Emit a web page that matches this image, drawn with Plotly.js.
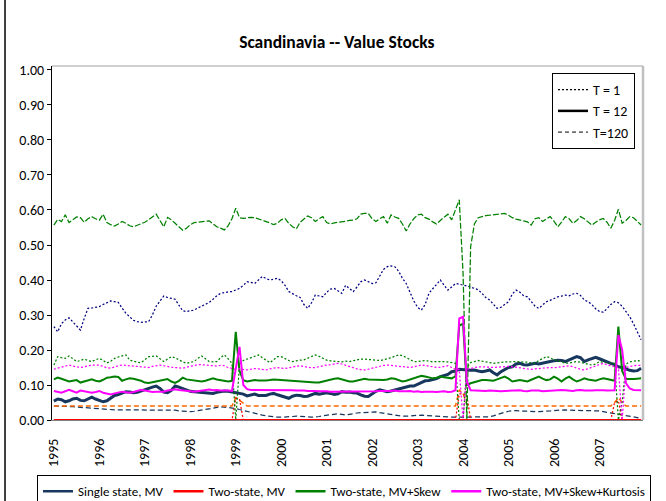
<!DOCTYPE html>
<html>
<head>
<meta charset="utf-8">
<script src="https://cdn.plot.ly/plotly-3.0.1.min.js"></script>
<style>
  html, body { margin: 0; padding: 0; background: #ffffff; }
  #chart { width: 666px; height: 501px; }
</style>
</head>
<body>
<div id="chart"></div>
<script>
// ---------- DATA (monthly, Jan 1995 - Dec 2007) ----------
const years = ["1995","1996","1997","1998","1999","2000","2001","2002","2003","2004","2005","2006","2007"];

const seriesNames = ["Single state, MV", "Two-state, MV", "Two-state, MV+Skew", "Two-state, MV+Skew+Kurtosis"];
const horizonNames = ["T = 1", "T = 12", "T=120"];

// Single state, MV
const singleT1 = [
0.267,0.252,0.275,0.286,0.292,0.280,0.267,0.257,0.290,0.319,0.320,0.322,
0.324,0.330,0.336,0.340,0.338,0.336,0.320,0.305,0.295,0.285,0.281,0.279,
0.280,0.281,0.300,0.325,0.340,0.354,0.350,0.348,0.345,0.328,0.312,0.310,
0.312,0.314,0.320,0.325,0.330,0.336,0.345,0.355,0.362,0.365,0.366,0.367,
0.372,0.376,0.385,0.395,0.393,0.390,0.400,0.410,0.404,0.400,0.402,0.405,
0.398,0.385,0.367,0.360,0.355,0.350,0.330,0.319,0.335,0.357,0.354,0.352,
0.365,0.374,0.376,0.368,0.362,0.385,0.375,0.367,0.380,0.395,0.400,0.396,
0.390,0.392,0.410,0.430,0.438,0.440,0.438,0.425,0.405,0.390,0.365,0.340,
0.322,0.314,0.330,0.362,0.375,0.388,0.400,0.385,0.371,0.380,0.390,0.388,
0.386,0.384,0.380,0.376,0.372,0.362,0.350,0.343,0.332,0.319,0.322,0.330,
0.338,0.360,0.371,0.365,0.355,0.352,0.340,0.325,0.319,0.328,0.338,0.342,
0.348,0.352,0.354,0.357,0.355,0.360,0.362,0.356,0.343,0.338,0.330,0.318,
0.310,0.308,0.318,0.330,0.338,0.335,0.325,0.310,0.295,0.275,0.250,0.229];

const singleT12 = [
0.054,0.060,0.058,0.052,0.055,0.060,0.062,0.056,0.055,0.060,0.065,0.060,
0.055,0.052,0.055,0.062,0.070,0.073,0.076,0.081,0.080,0.078,0.079,0.083,
0.088,0.090,0.094,0.097,0.090,0.080,0.078,0.085,0.097,0.094,0.090,0.088,
0.082,0.081,0.080,0.078,0.077,0.076,0.076,0.079,0.081,0.083,0.082,0.080,
0.078,0.078,0.074,0.069,0.072,0.074,0.070,0.069,0.070,0.074,0.076,0.072,
0.068,0.064,0.062,0.068,0.071,0.070,0.067,0.068,0.072,0.076,0.074,0.077,
0.078,0.076,0.073,0.075,0.081,0.079,0.080,0.078,0.077,0.072,0.068,0.067,
0.075,0.082,0.086,0.083,0.081,0.083,0.086,0.090,0.092,0.094,0.097,0.097,
0.102,0.106,0.112,0.113,0.115,0.118,0.124,0.128,0.130,0.138,0.140,0.145,
0.145,0.143,0.142,0.143,0.140,0.138,0.140,0.143,0.135,0.129,0.138,0.145,
0.150,0.152,0.160,0.162,0.158,0.157,0.160,0.162,0.160,0.163,0.166,0.167,
0.169,0.171,0.170,0.167,0.172,0.176,0.181,0.178,0.167,0.172,0.176,0.179,
0.175,0.170,0.167,0.162,0.158,0.152,0.150,0.145,0.142,0.140,0.141,0.148];

const singleT120 = [
0.040,0.040,0.040,0.040,0.039,0.038,0.037,0.036,0.035,0.034,0.033,0.032,
0.032,0.031,0.030,0.030,0.029,0.029,0.029,0.029,0.029,0.029,0.029,0.029,
0.029,0.029,0.029,0.030,0.030,0.030,0.030,0.030,0.028,0.026,0.025,0.024,
0.024,0.025,0.026,0.028,0.030,0.032,0.034,0.036,0.038,0.037,0.036,0.036,
0.033,0.030,0.027,0.024,0.021,0.018,0.015,0.014,0.012,0.010,0.009,0.008,
0.008,0.008,0.009,0.010,0.011,0.011,0.010,0.009,0.008,0.008,0.010,0.012,
0.014,0.015,0.016,0.018,0.016,0.014,0.016,0.019,0.020,0.021,0.022,0.023,
0.024,0.023,0.021,0.019,0.017,0.016,0.015,0.013,0.011,0.011,0.012,0.013,
0.014,0.014,0.013,0.012,0.011,0.010,0.010,0.009,0.009,0.008,0.008,0.008,
0.008,0.008,0.008,0.008,0.008,0.008,0.008,0.009,0.012,0.016,0.019,0.022,
0.025,0.027,0.027,0.026,0.025,0.024,0.024,0.024,0.024,0.024,0.025,0.026,
0.027,0.028,0.029,0.029,0.028,0.028,0.027,0.027,0.027,0.027,0.027,0.027,
0.026,0.024,0.022,0.019,0.017,0.016,0.014,0.013,0.011,0.009,0.007,0.005];

// Two-state, MV
const twoMVT1 = [
0,0,0,0,0,0,0,0,0,0,0,0,
0,0,0,0,0,0,0,0,0,0,0,0,
0,0,0,0,0,0,0,0,0,0,0,0,
0,0,0,0,0,0,0,0,0,0,0,0,
0.062,0.060,0,0,0,0,0,0,0,0,0,0,
0,0,0,0,0,0,0,0,0,0,0,0,
0,0,0,0,0,0,0,0,0,0,0,0,
0,0,0,0,0,0,0,0,0,0,0,0,
0,0,0,0,0,0,0,0,0,0,0,0.075,
0.075,0.070,0,0,0,0,0,0,0,0,0,0,
0,0,0,0,0,0,0,0,0,0,0,0,
0,0,0,0,0,0,0,0,0,0,0,0,
0,0,0,0,0.050,0.055,0,0,0,0,0,0];

const twoMVT12 = [
0,0,0,0,0,0,0,0,0,0,0,0,
0,0,0,0,0,0,0,0,0,0,0,0,
0,0,0,0,0,0,0,0,0,0,0,0,
0,0,0,0,0,0,0,0,0,0,0,0,
0,0,0,0,0,0,0,0,0,0,0,0,
0,0,0,0,0,0,0,0,0,0,0,0,
0,0,0,0,0,0,0,0,0,0,0,0,
0,0,0,0,0,0,0,0,0,0,0,0,
0,0,0,0,0,0,0,0,0,0,0,0,
0,0,0,0,0,0,0,0,0,0,0,0,
0,0,0,0,0,0,0,0,0,0,0,0,
0,0,0,0,0,0,0,0,0,0,0,0,
0,0,0,0,0,0,0,0,0,0,0,0];

const twoMVT120 = [
0.040,0.040,0.040,0.040,0.040,0.040,0.040,0.040,0.040,0.040,0.040,0.040,
0.040,0.040,0.040,0.040,0.040,0.040,0.040,0.040,0.040,0.040,0.040,0.040,
0.040,0.040,0.040,0.040,0.040,0.040,0.040,0.040,0.040,0.040,0.040,0.040,
0.040,0.040,0.040,0.040,0.040,0.040,0.040,0.040,0.040,0.040,0.040,0.040,
0.064,0.056,0.046,0.040,0.040,0.040,0.040,0.040,0.040,0.040,0.040,0.040,
0.040,0.040,0.040,0.040,0.040,0.040,0.040,0.040,0.040,0.040,0.040,0.040,
0.040,0.040,0.040,0.040,0.040,0.040,0.040,0.040,0.040,0.040,0.040,0.040,
0.040,0.040,0.040,0.040,0.040,0.040,0.040,0.040,0.040,0.040,0.040,0.040,
0.040,0.040,0.040,0.040,0.040,0.040,0.040,0.040,0.040,0.040,0.040,0.086,
0.075,0.045,0.040,0.040,0.040,0.040,0.040,0.040,0.040,0.040,0.040,0.040,
0.040,0.040,0.040,0.040,0.040,0.040,0.040,0.040,0.040,0.040,0.040,0.040,
0.040,0.040,0.040,0.040,0.040,0.040,0.040,0.040,0.040,0.040,0.040,0.040,
0.040,0.040,0.040,0.040,0.050,0.064,0.050,0.040,0.040,0.040,0.040,0.040];

// Two-state, MV+Skew
const skewT1 = [
0.157,0.181,0.178,0.176,0.183,0.175,0.167,0.170,0.174,0.170,0.167,0.172,
0.176,0.170,0.163,0.168,0.176,0.180,0.184,0.186,0.171,0.167,0.165,0.164,
0.172,0.181,0.182,0.183,0.175,0.167,0.174,0.181,0.178,0.171,0.166,0.162,
0.165,0.167,0.176,0.183,0.175,0.167,0.166,0.167,0.178,0.186,0.175,0.162,
0.000,0.160,0.170,0.174,0.178,0.181,0.186,0.178,0.170,0.164,0.172,0.181,
0.181,0.175,0.170,0.167,0.170,0.171,0.172,0.176,0.180,0.186,0.182,0.176,
0.171,0.169,0.167,0.167,0.166,0.168,0.167,0.170,0.172,0.174,0.174,0.173,
0.172,0.171,0.170,0.172,0.174,0.178,0.182,0.186,0.184,0.178,0.172,0.167,
0.167,0.168,0.170,0.168,0.166,0.167,0.168,0.167,0.166,0.164,0.162,0.000,
0.000,0.150,0.164,0.167,0.170,0.168,0.166,0.164,0.162,0.163,0.165,0.166,
0.166,0.167,0.167,0.166,0.166,0.165,0.163,0.162,0.170,0.176,0.181,0.178,
0.172,0.170,0.166,0.162,0.163,0.165,0.167,0.165,0.162,0.160,0.157,0.160,
0.167,0.165,0.163,0.162,0.162,0.000,0.050,0.160,0.166,0.168,0.170,0.168];

const skewT12 = [
0.116,0.121,0.118,0.113,0.110,0.112,0.114,0.107,0.110,0.114,0.116,0.112,
0.110,0.115,0.121,0.122,0.124,0.123,0.112,0.116,0.119,0.118,0.116,0.112,
0.107,0.106,0.108,0.110,0.113,0.116,0.117,0.110,0.106,0.112,0.121,0.116,
0.114,0.112,0.112,0.110,0.112,0.116,0.119,0.116,0.114,0.112,0.110,0.112,
0.252,0.140,0.114,0.110,0.112,0.114,0.113,0.112,0.113,0.114,0.116,0.115,
0.114,0.114,0.114,0.113,0.112,0.111,0.110,0.109,0.108,0.107,0.107,0.110,
0.114,0.116,0.118,0.119,0.116,0.112,0.110,0.110,0.113,0.116,0.118,0.116,
0.115,0.114,0.113,0.114,0.116,0.119,0.118,0.114,0.110,0.112,0.116,0.118,
0.122,0.126,0.124,0.121,0.119,0.121,0.124,0.122,0.120,0.119,0.125,0.270,
0.275,0.100,0.105,0.108,0.111,0.114,0.114,0.113,0.112,0.116,0.121,0.124,
0.118,0.110,0.112,0.114,0.112,0.110,0.115,0.120,0.124,0.118,0.114,0.116,
0.124,0.118,0.110,0.118,0.124,0.116,0.110,0.114,0.119,0.116,0.113,0.112,
0.116,0.119,0.117,0.114,0.112,0.267,0.140,0.117,0.116,0.117,0.118,0.119];

const skewT120 = [
0.557,0.573,0.567,0.586,0.564,0.572,0.580,0.578,0.565,0.575,0.581,0.575,
0.571,0.588,0.564,0.558,0.554,0.560,0.567,0.562,0.555,0.552,0.556,0.560,
0.565,0.572,0.580,0.588,0.570,0.552,0.579,0.572,0.562,0.552,0.542,0.548,
0.558,0.564,0.566,0.567,0.568,0.569,0.560,0.552,0.548,0.543,0.555,0.575,
0.605,0.578,0.576,0.578,0.579,0.578,0.575,0.570,0.567,0.563,0.558,0.562,
0.572,0.576,0.562,0.552,0.546,0.565,0.573,0.583,0.578,0.567,0.575,0.581,
0.564,0.560,0.563,0.564,0.566,0.568,0.570,0.571,0.575,0.588,0.590,0.590,
0.575,0.567,0.575,0.581,0.562,0.586,0.580,0.576,0.560,0.540,0.560,0.575,
0.586,0.588,0.578,0.574,0.566,0.560,0.570,0.580,0.588,0.572,0.600,0.629,
0.420,0.000,0.495,0.560,0.578,0.582,0.584,0.585,0.586,0.588,0.589,0.590,
0.585,0.578,0.574,0.572,0.570,0.566,0.557,0.575,0.578,0.567,0.575,0.581,
0.568,0.552,0.565,0.581,0.575,0.562,0.570,0.581,0.575,0.565,0.557,0.565,
0.572,0.576,0.565,0.548,0.570,0.602,0.562,0.570,0.581,0.578,0.568,0.557];

// Two-state, MV+Skew+Kurtosis
const kurtT1 = [
0.145,0.148,0.152,0.155,0.157,0.154,0.151,0.150,0.152,0.155,0.157,0.157,
0.157,0.153,0.149,0.148,0.152,0.155,0.157,0.156,0.155,0.154,0.153,0.152,
0.151,0.150,0.153,0.156,0.157,0.155,0.152,0.151,0.150,0.148,0.148,0.151,
0.154,0.157,0.158,0.158,0.157,0.155,0.153,0.154,0.156,0.155,0.150,0.147,
0.145,0.146,0.144,0.143,0.145,0.147,0.146,0.144,0.143,0.146,0.149,0.150,
0.148,0.147,0.149,0.152,0.154,0.155,0.153,0.150,0.149,0.150,0.153,0.156,
0.157,0.158,0.160,0.162,0.160,0.156,0.152,0.148,0.146,0.144,0.143,0.145,
0.148,0.152,0.154,0.156,0.157,0.156,0.155,0.154,0.152,0.150,0.150,0.152,
0.155,0.157,0.156,0.154,0.152,0.150,0.151,0.154,0.155,0.150,0.145,0.145,
0.000,0.145,0.148,0.150,0.152,0.152,0.151,0.150,0.150,0.151,0.152,0.152,
0.153,0.152,0.150,0.148,0.147,0.146,0.145,0.146,0.148,0.150,0.151,0.150,
0.149,0.150,0.152,0.154,0.155,0.152,0.148,0.145,0.143,0.147,0.150,0.154,
0.158,0.162,0.158,0.154,0.152,0.150,0.000,0.150,0.153,0.155,0.156,0.156];

const kurtT12 = [
0.083,0.081,0.078,0.082,0.086,0.082,0.078,0.084,0.082,0.079,0.078,0.080,
0.083,0.078,0.075,0.073,0.076,0.079,0.081,0.079,0.078,0.080,0.083,0.086,
0.084,0.081,0.080,0.081,0.081,0.081,0.084,0.087,0.088,0.086,0.084,0.083,
0.082,0.081,0.083,0.085,0.086,0.087,0.085,0.086,0.084,0.085,0.084,0.083,
0.150,0.209,0.100,0.088,0.086,0.086,0.085,0.086,0.086,0.087,0.086,0.085,
0.086,0.085,0.086,0.085,0.084,0.085,0.084,0.083,0.084,0.083,0.082,0.083,
0.082,0.081,0.081,0.081,0.082,0.080,0.081,0.082,0.081,0.080,0.081,0.082,
0.081,0.082,0.083,0.082,0.083,0.083,0.084,0.082,0.081,0.082,0.083,0.081,
0.082,0.080,0.081,0.082,0.081,0.080,0.081,0.082,0.080,0.081,0.085,0.290,
0.295,0.110,0.085,0.084,0.083,0.082,0.083,0.084,0.083,0.082,0.082,0.083,
0.084,0.083,0.084,0.085,0.083,0.082,0.084,0.085,0.084,0.082,0.083,0.084,
0.085,0.084,0.086,0.085,0.084,0.083,0.085,0.086,0.084,0.083,0.084,0.085,
0.086,0.085,0.084,0.085,0.085,0.243,0.200,0.105,0.090,0.086,0.085,0.085];

// ---------- BUILD ----------
const months = [];
for (let i = 0; i < years.length * 12; i++) months.push(i);
const yearTickVals = years.map((_, k) => k * 12);

const FONT = "Carlito, Calibri, 'Liberation Sans', Arial, sans-serif";

const cNavy = "#17375E", cNavyDot = "#000080", cRed = "#FF0000",
      cOrange = "#FF6600", cGreen = "#008000", cMag = "#FF00FF";

function tr(y, color, width, dash) {
  return { x: months, y: y, type: "scatter", mode: "lines",
           line: { color: color, width: width, dash: dash, shape: "linear" },
           showlegend: false, hoverinfo: "skip" };
}

const traces = [
  tr(singleT1, cNavyDot, 1.25, "2px,2px"),
  tr(singleT12, cNavy, 3, "solid"),
  tr(singleT120, cNavy, 1.25, "5px,3px"),
  tr(twoMVT120, cOrange, 1.5, "5px,3px"),
  tr(twoMVT1, cRed, 1.25, "2px,2px"),
  tr(skewT1, cGreen, 1.25, "2px,2px"),
  tr(skewT120, cGreen, 1.25, "6px,2px"),
  tr(skewT12, cGreen, 2, "solid"),
  tr(kurtT1, cMag, 1.25, "2px,2px"),
  tr(kurtT12, cMag, 2, "solid"),
  tr(twoMVT12, cRed, 2, "solid")
];

// legend entries (series colours)
const seriesColors = [cNavy, cRed, cGreen, cMag];
seriesNames.forEach((n, k) => {
  traces.push({ x: [null], y: [null], type: "scatter", mode: "lines", name: n,
    line: { color: seriesColors[k], width: 2.5 }, legend: "legend", hoverinfo: "skip" });
});
// legend entries (horizons)
const horizonDash = ["2px,2px", "solid", "4px,3px"];
const horizonWidth = [1.25, 2.5, 1];
horizonNames.forEach((n, k) => {
  traces.push({ x: [null], y: [null], type: "scatter", mode: "lines", name: n,
    line: { color: "#000000", width: horizonWidth[k], dash: horizonDash[k] },
    legend: "legend2", hoverinfo: "skip" });
});

const layout = {
  width: 666, height: 501,
  margin: { l: 52, r: 23, t: 66, b: 81, pad: 0, autoexpand: false },
  paper_bgcolor: "#ffffff", plot_bgcolor: "#ffffff",
  font: { family: FONT, size: 14, color: "#000000" },
  title: { text: "Scandinavia -- Value Stocks", font: { family: FONT, size: 17.5, weight: "bold", color: "#000000" },
           xref: "paper", x: 0.482, xanchor: "center", yref: "container", y: 0.916, yanchor: "middle" },
  xaxis: {
    range: [-0.5, 155.5], tickmode: "array", tickvals: yearTickVals, ticktext: years,
    tickangle: -90, showgrid: false, zeroline: false, automargin: false,
    showline: true, linecolor: "#808080", linewidth: 1,
    ticks: "", ticklabelstandoff: 12, tickfont: { family: FONT, size: 14 }
  },
  yaxis: {
    range: [0, 1.0114], tickmode: "array", automargin: false,
    tickvals: [0, 0.1, 0.2, 0.3, 0.4, 0.5, 0.6, 0.7, 0.8, 0.9, 1.0],
    tickformat: ".2f", showgrid: false, zeroline: false,
    showline: true, linecolor: "#000000", linewidth: 1,
    ticks: "outside", ticklen: 4, tickcolor: "#000000", tickwidth: 1,
    tickfont: { family: FONT, size: 14 }
  },
  legend: {
    orientation: "h", x: -0.0254, xanchor: "left", y: -0.156, yanchor: "top",
    bordercolor: "#000000", borderwidth: 1, bgcolor: "#ffffff",
    font: { family: FONT, size: 13 }, itemwidth: 30
  },
  legend2: {
    orientation: "v", x: 0.846, xanchor: "left", y: 0.98, yanchor: "top",
    bordercolor: "#000000", borderwidth: 1, bgcolor: "#ffffff",
    font: { family: FONT, size: 14 }, itemwidth: 30, tracegroupgap: 0
  },
  shapes: [
    { type: "line", xref: "paper", yref: "paper", x0: 0, x1: 1, y0: 1, y1: 1,
      line: { color: "#A0A0A0", width: 1 } },
    { type: "line", xref: "paper", yref: "paper", x0: 1, x1: 1, y0: 0, y1: 1,
      line: { color: "#C0C0C0", width: 2.5 } },
    { type: "line", xref: "paper", yref: "paper", x0: -0.0795, x1: -0.0795, y0: -0.3, y1: 1.2,
      line: { color: "#000000", width: 1.5 } }
  ],
  showlegend: true, hovermode: false
};

Plotly.newPlot("chart", traces, layout, { staticPlot: true, displayModeBar: false });
</script>
</body>
</html>
